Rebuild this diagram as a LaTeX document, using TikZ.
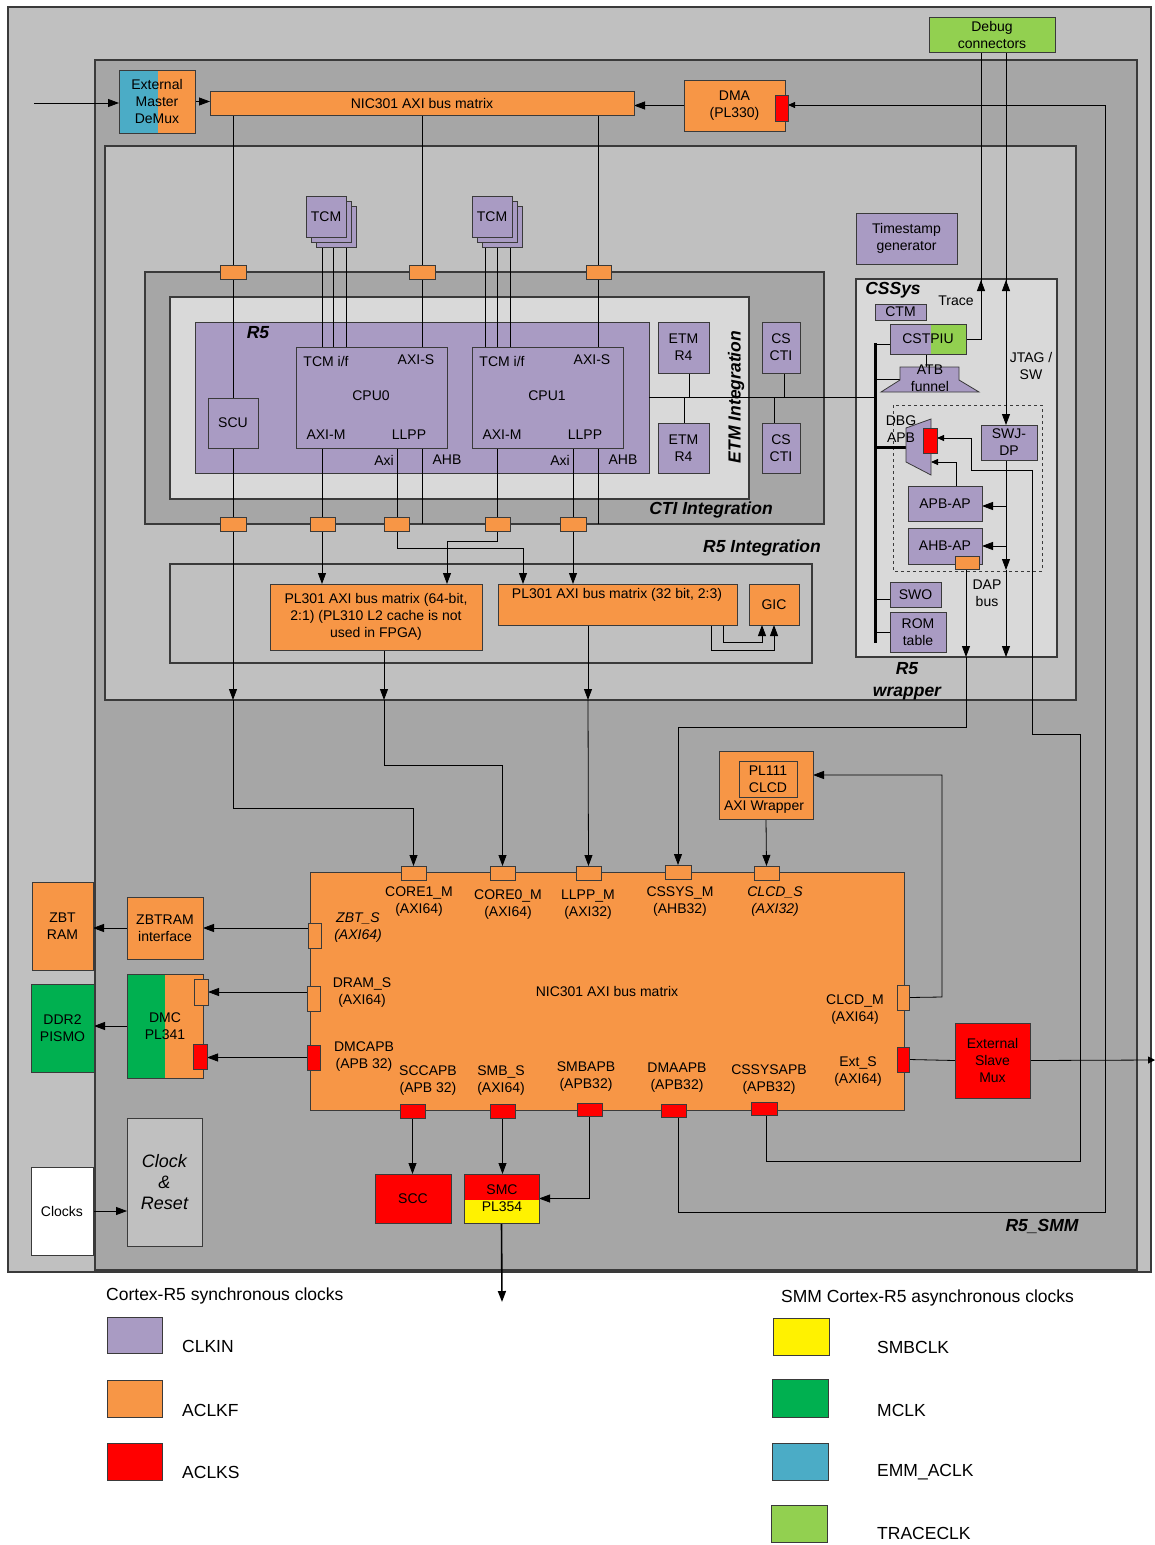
\documentclass[tikz,border=0pt]{standalone}
\usepackage{fontspec}
\setmainfont{Liberation Sans}
\usetikzlibrary{arrows.meta}
\pgfdeclarelayer{bg}
\pgfdeclarelayer{wires}
\pgfsetlayers{bg,wires,main}
\definecolor{orng}{HTML}{F79646}
\definecolor{purp}{HTML}{A99BC3}
\definecolor{blu}{HTML}{4BACC6}
\definecolor{grn}{HTML}{00B050}
\definecolor{lgrn}{HTML}{92D050}
\definecolor{gA}{HTML}{C0C0C0}
\definecolor{gB}{HTML}{A6A6A6}
\definecolor{gC}{HTML}{D9D9D9}
\definecolor{edge}{HTML}{3A3A3A}
\newcommand\mkbox[7]{\node[#6, minimum width={(#4-#2)*1pt}, minimum height={(#5-#3)*1pt}] (#1) at ({(#2+#4)/2},{(#3+#5)/2}) {#7};}
\tikzset{
  every node/.style={font=\fontsize{14}{17}\selectfont},
  bx/.style={draw=edge, line width=0.8pt, inner sep=0pt, outer sep=0pt, align=center},
  ob/.style={bx, fill=orng},
  pb/.style={bx, fill=purp},
  rb/.style={bx, fill=red},
  cont/.style={draw=edge, line width=1.1pt},
  wire/.style={line width=0.8pt, draw=black},
  arr/.style={wire, -{Triangle[length=11pt,width=8pt]}},
  sarr/.style={wire, -{Triangle[length=7pt,width=6pt]}},
  txt/.style={inner sep=0pt, align=center},
  itxt/.style={txt, font=\itshape\fontsize{14}{17}\selectfont},
  big/.style={txt, font=\bfseries\itshape\fontsize{17.5}{22}\selectfont},
  leg/.style={inner sep=0pt, anchor=west, font=\fontsize{17.5}{20}\selectfont},
}
\begin{document}
\begin{tikzpicture}[x=1pt,y=-1pt]
\useasboundingbox (0,0) rectangle (1155,1545);
\begin{pgfonlayer}{bg}
\fill[white] (0,0) rectangle (1155,1545);
\draw[cont, fill=gA] (8,7) rectangle (1151,1272);
\draw[cont, fill=gB] (95,60) rectangle (1137,1270);
\draw[cont, fill=gA] (105,146) rectangle (1076,700);
\draw[cont, fill=gB] (145,272) rectangle (824,524);
\draw[cont, fill=gC] (170,297) rectangle (749,499);
\draw[cont] (170,564) rectangle (812,663);
\draw[cont, fill=gC] (856,279) rectangle (1057,657);
\draw[edge, dashed, line width=0.8pt] (893,405) rectangle (1042,571);
\mkbox{r5}{195}{322}{649}{473}{pb}{}
\end{pgfonlayer}

% ---------- labels of containers
\node[big] (lR5) at (258,333) {R5};
\node[big, rotate=90] (lETM) at (736,397) {ETM Integration};
\node[big] (lCTI) at (711,510) {CTI Integration};
\node[big] (lR5I) at (762,548) {R5 Integration};
\node[big] (lCS) at (893,290) {CSSys};
\node[big] (lWR) at (907,681) {R5\\wrapper};
\node[big] (lSMM) at (1042,1226) {R5\_SMM};

% ---------- top
\fill[blu] (119,70) rectangle (158,133);
\fill[orng] (158,70) rectangle (195,133);
\mkbox{demux}{119}{70}{195}{133}{bx}{External\\Master\\DeMux}
\mkbox{nicT}{210}{91}{634}{115}{ob}{NIC301 AXI bus matrix}
\mkbox{dma}{684}{80}{785}{131}{ob}{DMA\\(PL330)}
\mkbox{dmaP}{775}{95}{788}{121}{rb}{}
\mkbox{debug}{929}{17}{1055}{52}{bx,fill=lgrn}{Debug\\connectors}
\mkbox{ts}{856}{213}{957}{264}{pb}{Timestamp\\generator}

% ---------- TCM stacks
\mkbox{tA3}{316}{206}{356}{247}{pb}{}
\mkbox{tA2}{311}{201}{351}{242}{pb}{}
\mkbox{tA}{306}{196}{346}{237}{pb}{TCM}
\mkbox{tB3}{482}{206}{522}{247}{pb}{}
\mkbox{tB2}{477}{201}{517}{242}{pb}{}
\mkbox{tB}{472}{196}{512}{237}{pb}{TCM}

% ---------- CTI ports
\mkbox{pa1}{220}{265}{246}{279}{ob}{}
\mkbox{pa2}{409}{265}{435}{279}{ob}{}
\mkbox{pa3}{586}{265}{611}{279}{ob}{}
\mkbox{pb1}{220}{517}{246}{531}{ob}{}
\mkbox{pb2}{310}{517}{335}{531}{ob}{}
\mkbox{pb3}{384}{517}{409}{531}{ob}{}
\mkbox{pb4}{485}{517}{510}{531}{ob}{}
\mkbox{pb5}{560}{517}{586}{531}{ob}{}

% ---------- R5 content
\mkbox{scu}{208}{398}{258}{448}{pb}{SCU}
\mkbox{cpu0}{296}{347}{447}{448}{pb}{}
\mkbox{cpu1}{472}{347}{623}{448}{pb}{}
\node[txt] (c0a) at (326,361) {TCM i/f};
\node[txt] (c0b) at (416,360) {AXI-S};
\node[txt] (c0c) at (371,396) {CPU0};
\node[txt] (c0d) at (326,435) {AXI-M};
\node[txt] (c0e) at (409,435) {LLPP};
\node[txt] (c0f) at (384,460) {Axi};
\node[txt] (c0g) at (447,460) {AHB};
\node[txt] (c1a) at (502,361) {TCM i/f};
\node[txt] (c1b) at (592,360) {AXI-S};
\node[txt] (c1c) at (547,396) {CPU1};
\node[txt] (c1d) at (502,435) {AXI-M};
\node[txt] (c1e) at (585,435) {LLPP};
\node[txt] (c1f) at (560,460) {Axi};
\node[txt] (c1g) at (623,460) {AHB};
\mkbox{etm1}{658}{322}{709}{373}{pb}{ETM\\R4}
\mkbox{etm2}{658}{423}{709}{473}{pb}{ETM\\R4}
\mkbox{cti1}{762}{322}{800}{373}{pb}{CS\\CTI}
\mkbox{cti2}{762}{423}{800}{473}{pb}{CS\\CTI}

% ---------- R5 integration
\mkbox{pl64}{270}{584}{482}{650}{ob}{PL301 AXI bus matrix (64-bit,\\2:1) (PL310 L2 cache is not\\used in FPGA)}
\mkbox{pl32}{498}{584}{737}{625}{ob}{}
\node[txt] (pl32t) at (617,595) {PL301 AXI bus matrix (32 bit, 2:3)};
\mkbox{gic}{749}{584}{799}{625}{ob}{GIC}

% ---------- CSSys
\mkbox{ctm}{875}{304}{926}{320}{pb}{CTM}
\fill[purp] (890,324) rectangle (931,354);
\fill[lgrn] (931,324) rectangle (966,354);
\mkbox{cstpiu}{890}{324}{966}{354}{bx}{CSTPIU}
\draw[draw=edge, line width=0.8pt, fill=purp] (900,367) -- (959,367) -- (959,380) -- (979,392) -- (881,392) -- (900,380) -- cycle;
\node[txt] (atb) at (930,378) {ATB\\funnel};
\draw[draw=edge, line width=0.8pt, fill=purp] (906,428) -- (931,419) -- (931,475) -- (906,462) -- cycle;
\mkbox{dbgP}{923}{428}{937}{453}{rb}{}
\node[txt] (dbgl) at (901,429) {DBG\\APB};
\mkbox{swj}{981}{425}{1037}{460}{pb}{SWJ-\\DP}
\mkbox{apbap}{908}{486}{982}{521}{pb}{APB-AP}
\mkbox{ahbap}{908}{528}{982}{564}{pb}{AHB-AP}
\mkbox{ahbP}{955}{556}{979}{569}{ob}{}
\mkbox{swo}{890}{582}{941}{607}{pb}{SWO}
\mkbox{rom}{890}{612}{946}{652}{pb}{ROM\\table}
\node[txt] (trl) at (956,301) {Trace};
\node[txt] (jtl) at (1031,366) {JTAG /\\SW};
\node[txt] (dapl) at (987,593) {DAP\\bus};

% ---------- SMM
\mkbox{pl111}{719}{751}{813}{819}{ob}{}
\mkbox{pl111i}{739}{761}{797}{797}{ob}{PL111\\CLCD}
\node[txt] (axw) at (764,807) {AXI Wrapper};
\mkbox{nic}{310}{872}{904}{1110}{ob}{NIC301 AXI bus matrix}
\mkbox{c1}{401}{866}{426}{880}{ob}{}
\mkbox{c0}{490}{866}{515}{880}{ob}{}
\mkbox{ll}{576}{866}{601}{880}{ob}{}
\mkbox{cssm}{665}{865}{691}{879}{ob}{}
\mkbox{clcds}{754}{866}{779}{880}{ob}{}
\mkbox{zbts}{308}{923}{321}{948}{ob}{}
\mkbox{drams}{307}{986}{320}{1011}{ob}{}
\mkbox{dmcapb}{307}{1045}{320}{1070}{rb}{}
\mkbox{clcdm}{897}{985}{909}{1010}{ob}{}
\mkbox{exts}{897}{1047}{909}{1072}{rb}{}
\mkbox{sccP}{400}{1104}{425}{1118}{rb}{}
\mkbox{smbs}{490}{1104}{515}{1118}{rb}{}
\mkbox{smbapb}{577}{1103}{602}{1116}{rb}{}
\mkbox{dmaapb}{661}{1104}{686}{1117}{rb}{}
\mkbox{cssapb}{751}{1102}{777}{1115}{rb}{}
\node[txt] at (419,902) {CORE1\_M\\(AXI64)};
\node[txt] at (508,905) {CORE0\_M\\(AXI64)};
\node[txt] at (588,905) {LLPP\_M\\(AXI32)};
\node[txt] at (680,902) {CSSYS\_M\\(AHB32)};
\node[itxt] at (775,902) {CLCD\_S\\(AXI32)};
\node[itxt] at (358,928) {ZBT\_S\\(AXI64)};
\node[txt] at (362,993) {DRAM\_S\\(AXI64)};
\node[txt] at (364,1057) {DMCAPB\\(APB 32)};
\node[txt] at (428,1081) {SCCAPB\\(APB 32)};
\node[txt] at (501,1081) {SMB\_S\\(AXI64)};
\node[txt] at (586,1077) {SMBAPB\\(APB32)};
\node[txt] at (677,1078) {DMAAPB\\(APB32)};
\node[txt] at (769,1080) {CSSYSAPB\\(APB32)};
\node[txt] at (858,1072) {Ext\_S\\(AXI64)};
\node[txt] at (855,1010) {CLCD\_M\\(AXI64)};

\mkbox{zbtram}{32}{882}{93}{970}{ob}{ZBT\\RAM}
\mkbox{zbtif}{127}{897}{203}{959}{ob}{ZBTRAM\\interface}
\mkbox{ddr2}{31}{984}{94}{1072}{bx,fill=grn}{DDR2\\PISMO}
\fill[grn] (127,974) rectangle (165,1078);
\fill[orng] (165,974) rectangle (203,1078);
\mkbox{dmc}{127}{974}{203}{1078}{bx}{DMC\\PL341}
\mkbox{dmcP1}{194}{979}{208}{1005}{ob}{}
\mkbox{dmcP2}{193}{1044}{207}{1069}{rb}{}
\mkbox{clocks}{31}{1167}{93}{1255}{bx,fill=white}{Clocks}
\mkbox{clkrst}{127}{1118}{202}{1246}{bx,fill=gA,font=\itshape\fontsize{18}{21}\selectfont}{Clock\\\&\\Reset}
\mkbox{scc}{375}{1174}{451}{1223}{rb}{SCC}
\fill[red] (464,1174) rectangle (539,1200);
\fill[yellow] (464,1200) rectangle (539,1223);
\mkbox{smc}{464}{1174}{539}{1223}{bx}{}
\node[txt] (smct) at (502,1190) {SMC};
\node[txt] (smcb) at (502,1207) {PL354};
\mkbox{extmux}{955}{1023}{1030}{1098}{rb}{External\\Slave\\Mux}

% ---------- connectors
\begin{pgfonlayer}{wires}
\draw[arr] (34,103) -- (demux.west |- 34,103);
\draw[arr] (demux.east) -- (nicT.west |- demux.east);
\draw[arr] (dma.west) -- (nicT.east |- dma.west);
\draw[wire] (scu.north |- nicT.south) -- (scu.north);
\draw[wire] (pa2.center |- nicT.south) -- (pa2.center |- cpu0.north);
\draw[wire] (pa3.center |- nicT.south) -- (pa3.center |- cpu1.north);
\foreach \x in {322,333,346,485,497,510} \draw[wire] (\x,247) -- (\x,347);
\draw[arr] (scu.south) -- (233,700);
\draw[arr] (233,700) -- (233,808) -| (c1.north);
\draw[arr] (322,448) -- (322,584);
\draw[arr] (397,448) -- (397,548) -| (523,584);
\draw[wire] (422,448) -- (422,524);
\draw[arr] (497,448) -- (497,541) -| (447,584);
\draw[arr] (573,448) -- (573,584);
\draw[wire] (598,448) -- (598,524);
\draw[arr] (384,650) -- (384,700);
\draw[arr] (384,700) -- (384,765) -| (c0.north);
\draw[arr] (588,625) -- (588,700);
\draw[arr] (588,700) -- (ll.north);
\draw[arr] (711,625) -- (711,650) -| (774,625);
\draw[arr] (723,625) -- (723,642) -| (762,625);
% ETM / CTI
\draw[wire] (649,397) -- (875,397);
\draw[wire] (689,373) -- (689,397);
\draw[wire] (684,397) -- (684,423);
\draw[wire] (784,373) -- (784,397);
\draw[wire] (774,397) -- (774,423);
% CSSys
\draw[line width=3pt] (875,343) -- (875,643);
\draw[wire] (875,344) -- (890,344);
\draw[wire] (926,354) -- (926,367);
\draw[wire] (875,379) -- (900,379);
\draw[line width=3pt] (875,447) -- (906,447);
\draw[wire] (875,599) -- (swo.west |- 875,599);
\draw[wire] (875,632) -- (rom.west |- 875,632);
\draw[wire] (cstpiu.east) -| (981,52);
\draw[arr] (981,300) -- (981,280);
\draw[arr] (1006,52) -- (1006,425);
\draw[arr] (1006,300) -- (1006,280);
\draw[arr] (1006,460) -- (1006,570);
\draw[arr] (1006,570) -- (1006,657);
\draw[arr] (1006,506) -- (apbap.east |- 1006,506);
\draw[arr] (1006,546) -- (ahbap.east |- 1006,546);
\draw[arr] (966,569) -- (966,657);
\draw[arr] (966,657) -- (966,727) -| (cssm.north);
\draw[sarr] (766,1115) -- (766,1161) -- (1080,1161) -- (1080,734) -- (1032,734) -- (1032,470) -- (971,470) -- (971,438) -- (dbgP.east |- 971,438);
\draw[sarr] (956,486) -- (956,462) -- (931,462);
\draw[sarr] (678,1117) -- (678,1212) -- (1105,1212) -- (1105,105) -- (dmaP.east |- 1105,105);
% SMM
\draw[arr] (clcdm.east) -- (942,997) -- (942,775) -- (pl111.east |- 942,775);
\draw[arr] (pl111.south) -- (clcds.north);
\draw[wire] (exts.east) -- (extmux.west);
\draw[wire, -{Triangle[length=7pt,width=7pt]}] (extmux.east) -- (1155,1060);
\draw[arr] (zbts.west |- zbtif.east) -- (zbtif.east);
\draw[arr] (zbtif.west) -- (zbtram.east |- zbtif.west);
\draw[arr] (drams.west |- dmcP1.east) -- (dmcP1.east);
\draw[arr] (dmcapb.west) -- (dmcP2.east |- dmcapb.west);
\draw[arr] (dmc.west) -- (ddr2.east |- dmc.west);
\draw[arr] (clocks.east) -- (clkrst.west |- clocks.east);
\draw[arr] (sccP.south) -- (scc.north -| sccP.south);
\draw[arr] (smbs.south) -- (smc.north -| smbs.south);
\draw[arr] (smbapb.south) |- (smc.east);
\draw[line width=1.6pt, -{Triangle[length=11pt,width=8pt]}] (smc.south) -- (502,1302);
\end{pgfonlayer}

% ---------- legend
\node[leg] (lg1) at (106,1296) {Cortex-R5 synchronous clocks};
\node[leg] (lg2) at (781,1298) {SMM Cortex-R5 asynchronous clocks};
\mkbox{sw1}{107}{1317}{162}{1353}{pb}{}
\mkbox{sw2}{107}{1380}{162}{1417}{ob}{}
\mkbox{sw3}{107}{1443}{162}{1480}{rb}{}
\mkbox{sw4}{773}{1318}{829}{1355}{bx,fill=yellow}{}
\mkbox{sw5}{772}{1379}{828}{1417}{bx,fill=grn}{}
\mkbox{sw6}{772}{1443}{828}{1480}{bx,fill=blu}{}
\mkbox{sw7}{771}{1505}{827}{1542}{bx,fill=lgrn}{}
\node[leg] at (182,1346) {CLKIN};
\node[leg] at (182,1410) {ACLKF};
\node[leg] at (182,1472) {ACLKS};
\node[leg] at (877,1347) {SMBCLK};
\node[leg] at (877,1410) {MCLK};
\node[leg] at (877,1472) {EMM\_ACLK};
\node[leg] at (877,1533) {TRACECLK};
\end{tikzpicture}
\end{document}
